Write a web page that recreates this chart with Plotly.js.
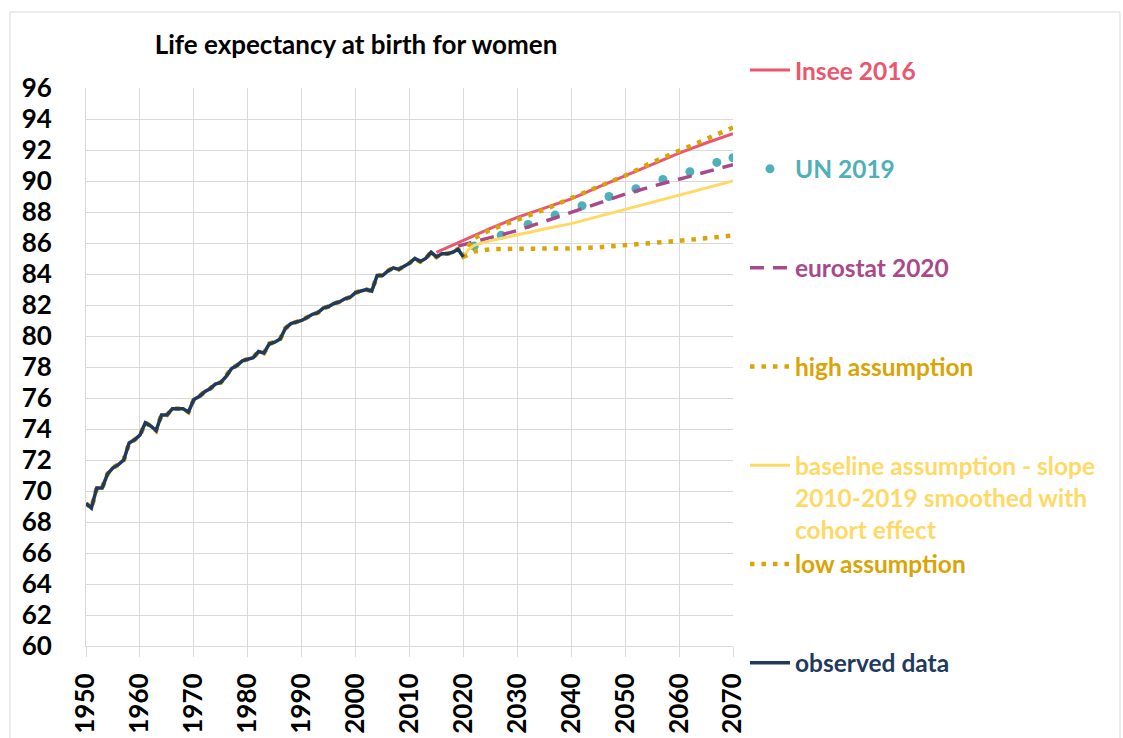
<!DOCTYPE html>
<html>
<head>
<meta charset="utf-8">
<script src="https://cdn.plot.ly/plotly-3.0.1.min.js"></script>
<style>html,body{margin:0;padding:0;background:#fff;}#chart{width:1123px;height:738px;}</style>
</head>
<body>
<div id="chart"></div>
<script>
// ---- data ----
const obsStart = 1950;
const observed = [
  69.2, 68.9, 70.2, 70.2, 71.1, 71.5, 71.7, 72.0, 73.1, 73.3,
  73.6, 74.4, 74.2, 73.9, 74.9, 74.9, 75.3, 75.3, 75.3, 75.1,
  75.9, 76.1, 76.4, 76.6, 76.9, 77.0, 77.4, 77.9, 78.1, 78.4,
  78.5, 78.6, 79.0, 78.9, 79.5, 79.6, 79.8, 80.5, 80.8, 80.9,
  81.0, 81.2, 81.4, 81.5, 81.8, 81.9, 82.1, 82.2, 82.4, 82.5,
  82.8, 82.9, 83.0, 82.9, 83.9, 83.9, 84.2, 84.4, 84.3, 84.5,
  84.7, 85.0, 84.8, 85.0, 85.4, 85.1, 85.3, 85.3, 85.4, 85.6,
  85.1
];
const obsYears = observed.map((_, i) => obsStart + i);

const inseeYears = [2015, 2020, 2025, 2030, 2035, 2040, 2045, 2050, 2055, 2060, 2065, 2070];
const inseeVals  = [85.4, 86.2, 86.95, 87.65, 88.25, 88.85, 89.6, 90.35, 91.1, 91.8, 92.45, 93.05];

const unYears = [2022, 2027, 2032, 2037, 2042, 2047, 2052, 2057, 2062, 2067, 2070];
const unVals  = [85.8, 86.5, 87.2, 87.8, 88.4, 89.0, 89.5, 90.1, 90.6, 91.2, 91.5];

const euroYears = [2019, 2020, 2025, 2030, 2035, 2040, 2045, 2050, 2055, 2060, 2065, 2070];
const euroVals  = [85.8, 85.9, 86.35, 86.8, 87.4, 88.0, 88.6, 89.15, 89.65, 90.1, 90.55, 91.05];

const highYears = [2021, 2022, 2025, 2030, 2035, 2040, 2045, 2050, 2055, 2060, 2065, 2070];
const highVals  = [85.85, 86.3, 86.85, 87.5, 88.15, 88.9, 89.6, 90.35, 91.2, 91.95, 92.7, 93.45];

const baseYears = [2021, 2022, 2025, 2030, 2035, 2040, 2045, 2050, 2055, 2060, 2065, 2070];
const baseVals  = [85.6, 85.85, 86.15, 86.55, 86.9, 87.25, 87.7, 88.15, 88.6, 89.05, 89.5, 90.0];

const lowYears = [2022, 2025, 2030, 2035, 2040, 2045, 2050, 2055, 2060, 2065, 2070];
const lowVals  = [85.45, 85.6, 85.63, 85.63, 85.65, 85.72, 85.84, 86.0, 86.14, 86.31, 86.48];

const labels = {
  insee: 'Insee 2016',
  un: 'UN 2019',
  euro: 'eurostat 2020',
  high: 'high assumption',
  base: 'baseline assumption - slope<br>2010-2019 smoothed with<br>cohort effect',
  low: 'low assumption',
  obs: 'observed data'
};
const chartTitle = 'Life expectancy at birth for women';

// ---- colours ----
const C = {
  insee: '#e9566d', un: '#4eb0b8', euro: '#a8498c',
  gold: '#d9a404', base: '#ffd966', obs: '#1f3a5f'
};
const col = (c, t) => '<span style="color:' + c + '">' + t + '</span>';

const traces = [
  { x: inseeYears, y: inseeVals, name: col(C.insee, labels.insee), legendgroup: 'g1',
    mode: 'lines', line: { color: C.insee, width: 3 } },
  { x: unYears, y: unVals, name: col(C.un, labels.un), legendgroup: 'g2',
    mode: 'markers', marker: { color: C.un, size: 9 } },
  { x: euroYears, y: euroVals, name: col(C.euro, labels.euro), legendgroup: 'g3',
    mode: 'lines', line: { color: C.euro, width: 3.5, dash: '14px,9px' } },
  { x: obsYears.concat(highYears), y: observed.concat(highVals), name: col(C.gold, labels.high), legendgroup: 'g4',
    mode: 'lines', line: { color: C.gold, width: 4.5, dash: '4.5px,7px' } },
  { x: obsYears.concat(baseYears), y: observed.concat(baseVals), name: col(C.base, labels.base), legendgroup: 'g5',
    mode: 'lines', line: { color: C.base, width: 3 } },
  { x: obsYears.concat(lowYears), y: observed.concat(lowVals), name: col(C.gold, labels.low), legendgroup: 'g5',
    mode: 'lines', line: { color: C.gold, width: 4.5, dash: '4.5px,7px' } },
  { x: obsYears, y: observed, name: col(C.obs, labels.obs), legendgroup: 'g7',
    mode: 'lines', line: { color: C.obs, width: 3.5 } }
];

const FONT = 'Lato, "Open Sans", sans-serif';
const layout = {
  width: 1123, height: 738,
  margin: { l: 86, r: 390, t: 88, b: 92 },
  paper_bgcolor: '#ffffff', plot_bgcolor: '#ffffff',
  font: { family: FONT, color: '#000' },
  title: { text: chartTitle, x: 0.4173, xref: 'paper', xanchor: 'center', y: 0.939, yanchor: 'middle',
           font: { family: FONT, size: 26, weight: 700, color: '#000' } },
  xaxis: { range: [1950, 2070], dtick: 10, tick0: 1950, showgrid: true, gridcolor: '#d9d9d9', gridwidth: 1,
           showline: true, linecolor: '#d9d9d9', zeroline: false,
           ticks: 'outside', ticklen: 10, tickcolor: '#d9d9d9', tickangle: -90, ticklabelstandoff: 6,
           tickfont: { family: FONT, size: 26, weight: 700, color: '#000' }, fixedrange: true },
  yaxis: { range: [60, 96], dtick: 2, tick0: 60, showgrid: true, gridcolor: '#d9d9d9', gridwidth: 1,
           showline: true, linecolor: '#d9d9d9', zeroline: false, ticks: '', ticklabelstandoff: 28,
           tickfont: { family: FONT, size: 26, weight: 700, color: '#000' }, fixedrange: true },
  showlegend: true,
  legend: { x: 1.0185, xanchor: 'left', y: 1.0725, yanchor: 'top', traceorder: 'grouped',
            tracegroupgap: 64, itemwidth: 40, valign: 'top', bgcolor: 'rgba(0,0,0,0)', borderwidth: 0,
            maxheight: 736,
            font: { family: FONT, size: 24.5, weight: 700 } },
  shapes: [
    { type: 'rect', xref: 'paper', yref: 'paper', x0: -0.1175, x1: 1.5981, y0: -0.18, y1: 1.1362,
      line: { color: '#d9d9d9', width: 1 }, fillcolor: 'rgba(0,0,0,0)', layer: 'below' }
  ]
};

Plotly.newPlot('chart', traces, layout, { displayModeBar: false, staticPlot: true });
</script>
</body>
</html>
